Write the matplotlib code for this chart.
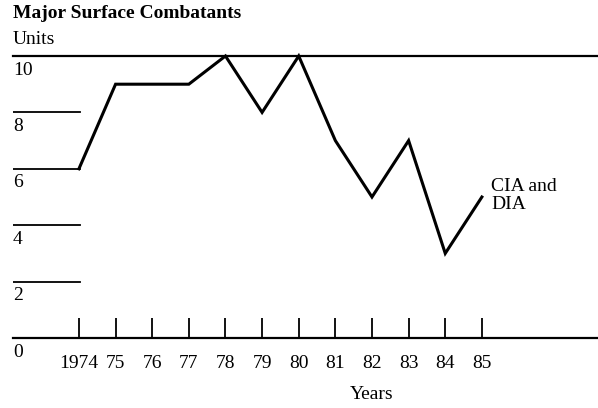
import matplotlib.pyplot as plt
from matplotlib.transforms import blended_transform_factory

# Данные
years = [1974, 1975, 1976, 1977, 1978, 1979, 1980, 1981, 1982, 1983, 1984, 1985]
year_labels = ['1974', '75', '76', '77', '78', '79', '80', '81', '82', '83', '84', '85']
units = [6, 9, 9, 9, 10, 8, 10, 7, 5, 7, 3, 5]
y_levels = [0, 2, 4, 6, 8, 10]

plt.rcParams['font.family'] = ['Liberation Serif', 'DejaVu Serif']

fig = plt.figure(figsize=(5.98, 4.08), dpi=100)
ax = fig.add_axes([13 / 598, 70 / 408, 585 / 598, 282 / 408])
ax.set_xlim(1972.2, 1988.17)
ax.set_ylim(0, 10)

ax.plot(years, units, color='black', lw=2.2, clip_on=False, solid_joinstyle='miter')

for s in ['left', 'right']:
    ax.spines[s].set_visible(False)
ax.spines['top'].set_linewidth(1.6)
ax.spines['bottom'].set_linewidth(1.6)

# короткие линии сетки
for v in y_levels[1:-1]:
    ax.axhline(v, xmin=0, xmax=67 / 585, color='black', lw=1.3)

trans = blended_transform_factory(ax.transAxes, ax.transData)
for v in y_levels:
    ax.text(0.0, v - 0.2, str(v), transform=trans, ha='left', va='top', fontsize=14)

ax.set_yticks([])
ax.set_xticks(years)
ax.set_xticklabels(year_labels, fontsize=14)
ax.tick_params(axis='x', direction='in', length=14.5, width=1.3, pad=12)

ax.text(1985.25, 5.05, 'CIA and\nDIA', ha='left', va='center', fontsize=14, linespacing=1.1)
ax.set_xlabel('Years', fontsize=14)
ax.xaxis.set_label_coords((372 - 13) / 585, -48 / 282)

fig.text(13 / 598, 1 - 14 / 408, 'Major Surface Combatants', fontsize=14, fontweight='bold',
         ha='left', va='center')
fig.text(13 / 598, 1 - 40 / 408, 'Units', fontsize=14, ha='left', va='center')

fig.savefig('out.png', dpi=100)
